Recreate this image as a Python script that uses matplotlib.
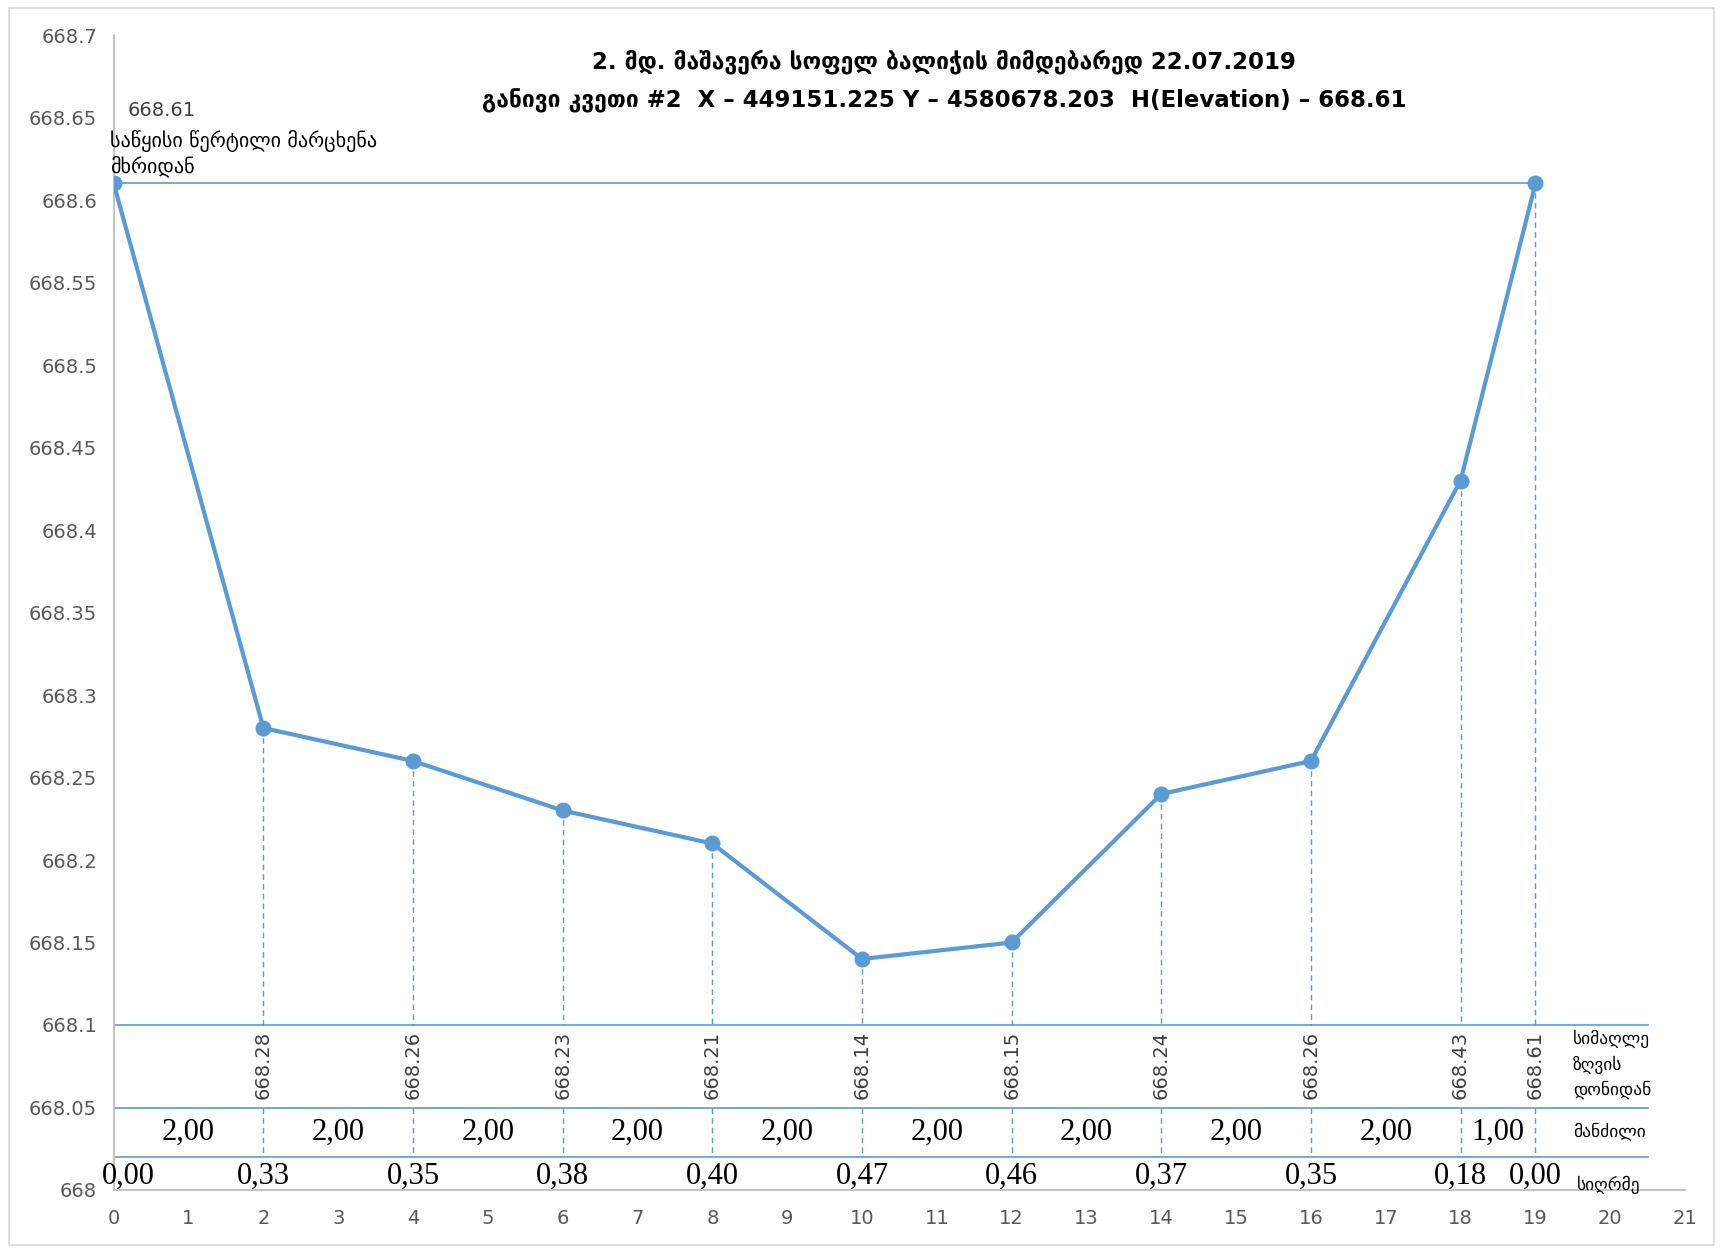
import numpy as np
from matplotlib import pyplot as plt
from matplotlib.patches import Rectangle

# cross-section points: distance from left bank / elevation
x_pts = [0, 2, 4, 6, 8, 10, 12, 14, 16, 18, 19]
elev = [668.61, 668.28, 668.26, 668.23, 668.21, 668.14, 668.15, 668.24, 668.26, 668.43, 668.61]
depth = ['0,00', '0,33', '0,35', '0,38', '0,40', '0,47', '0,46', '0,37', '0,35', '0,18', '0,00']
spacing = ['2,00', '2,00', '2,00', '2,00', '2,00', '2,00', '2,00', '2,00', '2,00', '1,00']

title1 = '2. მდ. მაშავერა სოფელ ბალიჭის მიმდებარედ 22.07.2019'
title2 = 'განივი კვეთი #2  X – 449151.225 Y – 4580678.203  H(Elevation) – 668.61'
start_note = 'საწყისი წერტილი მარცხენა\nმხრიდან'
row_names = ['სიმაღლე\nზღვის\nდონიდან', 'მანძილი', 'სიღრმე']

BLUE = '#5B9BD5'
GREY = '#595959'

plt.rcParams['font.family'] = ['DejaVu Sans']

fig = plt.figure(figsize=(17.23, 12.5), dpi=100)
ax = fig.add_axes([0.066, 0.048, 0.912, 0.924])

# table rows below the profile
row_top, row_mid, row_bot = 668.1, 668.05, 668.02
x_end = 20.5
for yy in (row_top, row_mid, row_bot):
    ax.plot([0, x_end], [yy, yy], color=BLUE, lw=1.2, zorder=2)

# top reference line (start elevation)
ax.plot([x_pts[0], x_pts[-1]], [elev[0], elev[-1]], color=BLUE, lw=1.2, zorder=2)

# dashed drops from each point
for xi, yi in zip(x_pts[1:], elev[1:]):
    ax.plot([xi, xi], [yi, row_top], color=BLUE, lw=1, ls=(0, (4, 3)), zorder=2)
    ax.plot([xi, xi], [row_mid, row_bot], color=BLUE, lw=1, ls=(0, (4, 3)), zorder=2)

ax.plot(x_pts, elev, color=BLUE, lw=3, marker='o', ms=10.5, zorder=4)

# elevation labels (rotated)
for xi, yi in zip(x_pts[1:], elev[1:]):
    ax.text(xi, 668.076, '%.2f' % yi, rotation=90, ha='center', va='center',
            fontsize=14, color='#404040')

# spacing labels
mids = [(a + b) / 2 for a, b in zip(x_pts[:-1], x_pts[1:])]
for xm, s in zip(mids, spacing):
    ax.text(xm, 668.035, s, ha='center', va='center', fontsize=22,
            family='Liberation Serif', color='black')

# depth labels
for xi, d in zip(x_pts, depth):
    ax.text(xi + (0.2 if xi == 0 else 0), 668.008, d, ha='center', va='center',
            fontsize=22, family='Liberation Serif', color='black')

# row names on the right
ax.text(19.5, 668.076, row_names[0], ha='left', va='center', fontsize=12.5, linespacing=1.5)
ax.text(19.5, 668.035, row_names[1], ha='left', va='center', fontsize=12.5)
ax.text(19.55, 668.003, row_names[2], ha='left', va='center', fontsize=12.5)

# start point note
ax.text(0.18, 668.654, '668.61', ha='left', va='center', fontsize=14, color='#404040')
ax.text(-0.05, 668.628, start_note, ha='left', va='center', fontsize=14.5, linespacing=1.2)

ax.set_xlim(0, 21)
ax.set_ylim(668, 668.7)
ax.set_xticks(np.arange(0, 22, 1))
ax.set_yticks(np.arange(668, 668.7001, 0.05))
ax.set_yticklabels(['668', '668.05', '668.1', '668.15', '668.2', '668.25', '668.3', '668.35',
                    '668.4', '668.45', '668.5', '668.55', '668.6', '668.65', '668.7'])
ax.tick_params(length=0, labelsize=14, colors=GREY, pad=14)
ax.tick_params(axis='y', pad=12)
for side in ('top', 'right'):
    ax.spines[side].set_visible(False)
for side in ('left', 'bottom'):
    ax.spines[side].set_color('#BFBFBF')
    ax.spines[side].set_linewidth(1.3)
ax.patch.set_alpha(0)

fig.text(0.548, 0.951, title1, ha='center', va='center', fontsize=16.5, fontweight='bold')
fig.text(0.548, 0.919, title2, ha='center', va='center', fontsize=16.5, fontweight='bold')

# chart border
fig.patches.append(Rectangle((0.005, 0.004), 0.99, 0.99, transform=fig.transFigure,
                             fill=False, edgecolor='#D9D9D9', lw=1.2))

fig.savefig('out.png', dpi=100)
